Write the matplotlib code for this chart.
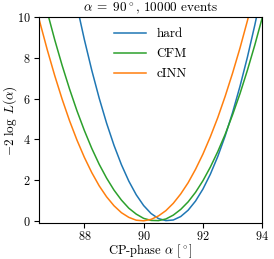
import matplotlib
matplotlib.use("Agg")
import matplotlib.pyplot as plt

plt.rcParams['font.family'] = 'serif'
plt.rcParams['font.serif'] = ['cmr10']
plt.rcParams['mathtext.fontset'] = 'cm'
plt.rcParams['axes.formatter.use_mathtext'] = True
plt.rcParams['font.size'] = 8.5

alpha = [86.25, 86.5, 86.75, 87.0, 87.25, 87.5, 87.75, 88.0, 88.25, 88.5, 88.75,
         89.0, 89.25, 89.5, 89.75, 90.0, 90.25, 90.5, 90.75, 91.0, 91.25,
         91.5, 91.75, 92.0, 92.25, 92.5, 92.75, 93.0, 93.25, 93.5, 93.75, 94.0]

hard = [None, None, None, None, None, 12.35, 10.56, 8.91, 7.40, 6.03, 4.80,
        3.71, 2.76, 1.95, 1.28, 0.75, 0.36, 0.11, 0.01, 0.04, 0.21,
        0.52, 0.97, 1.56, 2.29, 3.16, 4.17, 5.32, 6.61, 8.04, 9.62, 11.33]

cfm = [None, 11.71, 10.26, 8.90, 7.64, 6.48, 5.41, 4.44, 3.56, 2.78, 2.10,
       1.51, 1.02, 0.62, 0.33, 0.12, 0.02, 0.01, 0.09, 0.28, 0.56,
       0.93, 1.40, 1.97, 2.64, 3.40, 4.25, 5.21, 6.25, 7.40, 8.64, 9.98]

cinn = [11.23, 9.76, 8.40, 7.14, 5.98, 4.92, 3.97, 3.12, 2.37, 1.72, 1.18,
        0.74, 0.40, 0.17, 0.03, 0.00, 0.07, 0.24, 0.50, 0.86, 1.32,
        1.87, 2.53, 3.28, 4.13, 5.07, 6.12, 7.26, 8.49, 9.83, 11.26, None]

series = [("hard", hard, "tab:blue"), ("CFM", cfm, "tab:green"), ("cINN", cinn, "tab:orange")]

fig = plt.figure(figsize=(2.74, 2.59), dpi=100)
ax = fig.add_axes([0.1434, 0.138, 0.8136, 0.795])

for name, vals, col in series:
    xs = [a for a, v in zip(alpha, vals) if v is not None]
    ys = [v for v in vals if v is not None]
    ax.plot(xs, ys, color=col, lw=1.1, label=name)

ax.set_xlim(86.48, 94.0)
ax.set_ylim(-0.12, 10.0)
ax.set_xticks([88, 90, 92, 94])
ax.set_yticks([0, 2, 4, 6, 8, 10])
ax.tick_params(labelsize=8.8, pad=2.5)
ax.tick_params(axis='x', pad=1.5)
ax.set_xlabel(r"CP-phase $\alpha$ [$^\circ$]", fontsize=9.0, labelpad=-0.5)
ax.set_ylabel(r"$-2\;\log\;L(\alpha)$", fontsize=9.5, labelpad=-1)
ax.set_title(r"$\alpha\;=\;90^\circ$, 10000 events", fontsize=9.5, pad=2)
ax.legend(loc="upper center", frameon=False, handlelength=2.4, handletextpad=0.8,
          labelspacing=0.6, fontsize=9.5, borderaxespad=0.4)

fig.savefig("out.png", dpi=100)
